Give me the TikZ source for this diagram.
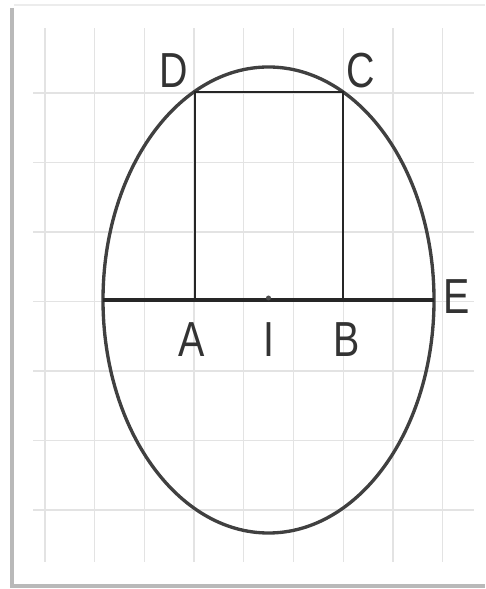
\documentclass[tikz,border=0pt]{standalone}
\usepackage{fontspec}
\newfontfamily\lblfont[FakeStretch=0.8]{Liberation Sans}
\begin{document}
\begin{tikzpicture}[x=0.01cm,y=-0.01cm,every node/.style={font=\lblfont\fontsize{14}{16}\selectfont,inner sep=0pt,text=black!80}]
\useasboundingbox (0,0) rectangle (485,589);
% paper and grid
\draw[gray!15,line width=0.4pt] (14,5) -- (485,5);
\foreach \x in {45,94.7,...,443} \draw[gray!22,line width=0.35pt] (\x,28) -- (\x,562);
\foreach \y in {93,162.5,...,511} \draw[gray!22,line width=0.35pt] (33,\y) -- (474,\y);
\draw[gray!55,line width=0.9pt] (12,8) -- (12,586) -- (485,586);
% points
\coordinate (I) at (268.5,300);
\coordinate (L) at (103,300);
\coordinate (E) at (434,300);
\coordinate (A) at (195,300);
\coordinate (B) at (343,300);
\coordinate (C) at (343,92);
\coordinate (D) at (195,92);
% figure
\draw[black!75,line width=0.95pt] (I) ellipse [x radius=165.5, y radius=233];
\draw[black!85,line width=0.8pt] (A) -- (D) -- (C) -- (B);
\draw[black!85,line width=1.1pt] (L) -- (E);
\fill[black!70] (I) ++(0,-2) circle (2.5);
% labels
\node (lD) at (174,71) {D};
\node (lC) at (361,71) {C};
\node (lE) at (457,297) {E};
\node (lA) at (192,340) {A};
\node (lI) at (269,340) {I};
\node (lB) at (347,340) {B};
\end{tikzpicture}
\end{document}
